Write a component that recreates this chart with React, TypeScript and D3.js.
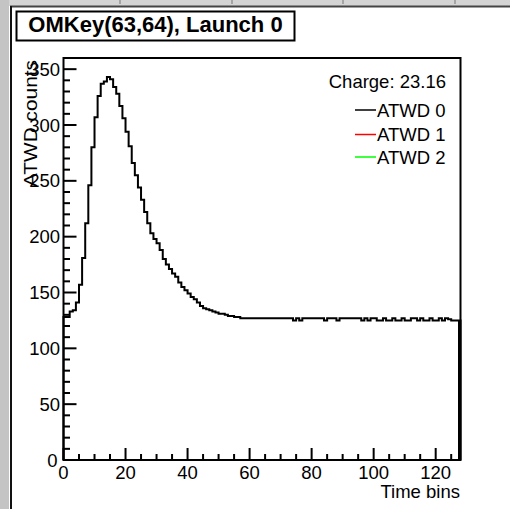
import React from 'react';
import * as d3 from 'd3';

const titleText = 'OMKey(63,64), Launch 0';
const chargeLabel = 'Charge: 23.16';
const xAxisTitle = 'Time bins';
const yAxisTitle = 'ATWD counts';
const seriesNames = ['ATWD 0', 'ATWD 1', 'ATWD 2'];
const seriesColors = ['#000000', '#ff0000', '#00ff00'];
const xTickValues = [0, 20, 40, 60, 80, 100, 120];
const yTickValues = [0, 50, 100, 150, 200, 250, 300, 350];

// ATWD 0 counts per time bin (128 bins)
const atwd0 = [
  128, 128, 133, 134, 141, 157, 181, 212, 246, 280,
  307, 326, 337, 339, 343, 341, 334, 328, 317, 306,
  294, 281, 266, 255, 244, 233, 222, 212, 203, 198,
  194, 188, 180, 175, 171, 167, 164, 159, 155, 152,
  149, 146, 144, 141, 138, 136, 135, 134, 133, 132,
  131, 131, 130, 129, 129, 128, 128, 127, 127, 127,
  127, 127, 127, 127, 127, 127, 127, 127, 127, 127,
  127, 127, 127, 127, 125, 127, 125, 127, 127, 127,
  127, 127, 127, 127, 125, 127, 127, 127, 125, 127,
  127, 127, 127, 127, 127, 127, 125, 127, 125, 127,
  127, 125, 125, 127, 125, 125, 127, 125, 125, 127,
  125, 125, 127, 127, 125, 127, 125, 125, 127, 125,
  125, 127, 125, 127, 126, 125, 125, 125,
];

const W = 510;
const H = 509;
const FONT = '"Liberation Sans", Arial, Helvetica, sans-serif';

export default function App() {
  const x = d3.scaleLinear().domain([0, 128]).range([63.5, 460.5]);
  const y = d3.scaleLinear().domain([0, 360]).range([460, 58]);

  const pts: [number, number][] = [[0, 0]];
  atwd0.forEach((v, i) => pts.push([i, v]));
  pts.push([atwd0.length, atwd0[atwd0.length - 1]]);
  pts.push([atwd0.length, 0]);
  const line = d3
    .line<[number, number]>()
    .x((d) => x(d[0]))
    .y((d) => y(d[1]))
    .curve(d3.curveStepAfter);

  const xMinor = d3.range(0, 129, 5).filter((v) => v % 20 !== 0);
  const yMinor = d3.range(0, 360, 10).filter((v) => v % 50 !== 0);

  const legendLineY = [110, 134.5, 157];
  const legendTextY = [116.5, 141, 163.5];

  return (
    <svg
      width={W}
      height={H}
      style={{ position: 'absolute', left: 0, top: 0, background: '#fff' }}
      fontFamily={FONT}
    >
      <rect x={0} y={0} width={W} height={H} fill="#ffffff" />
      {/* window chrome */}
      <rect x={0} y={0} width={W} height={6} fill="#d4d4d4" />
      <line x1={10} x2={W} y1={6.5} y2={6.5} stroke="#444" strokeWidth={2} />
      {[120, 232, 343, 455].map((v) => (
        <line key={v} x1={v} x2={v} y1={0} y2={4} stroke="#777" strokeWidth={1} />
      ))}
      <rect x={0} y={0} width={9} height={H} fill="#c4c4c4" />
      <line x1={11} x2={11} y1={6} y2={H} stroke="#111" strokeWidth={2} />

      {/* title box */}
      <rect x={16.5} y={11.5} width={278} height={29} fill="#fff" stroke="#000" strokeWidth={2} />
      <text x={155.5} y={32} textAnchor="middle" fontSize={22} fontWeight="bold" fill="#000">
        {titleText}
      </text>

      {/* frame */}
      <rect
        x={x(0)}
        y={y(360)}
        width={x(128) - x(0)}
        height={y(0) - y(360)}
        fill="none"
        stroke="#000"
        strokeWidth={2}
      />

      {/* histogram */}
      <path d={line(pts) || ''} fill="none" stroke="#000" strokeWidth={2} />
      <line
        x1={x(128) - 1.5}
        x2={x(128) - 1.5}
        y1={y(0)}
        y2={y(atwd0[atwd0.length - 1])}
        stroke="#000"
        strokeWidth={2}
      />

      {/* y axis ticks */}
      {yTickValues.map((v) => (
        <line key={'ym' + v} x1={x(0)} x2={x(0) + 13} y1={y(v)} y2={y(v)} stroke="#000" strokeWidth={2} />
      ))}
      {yMinor.map((v) => (
        <line key={'yn' + v} x1={x(0)} x2={x(0) + 6.5} y1={y(v)} y2={y(v)} stroke="#000" strokeWidth={2} />
      ))}
      {yTickValues.map((v) => (
        <text key={'yl' + v} x={v === 0 ? 57.5 : 60} y={y(v) + 6.5} textAnchor="end" fontSize={18.5} fill="#000">
          {v}
        </text>
      ))}

      {/* x axis ticks */}
      {xTickValues.map((v) => (
        <line key={'xm' + v} x1={x(v)} x2={x(v)} y1={y(0)} y2={y(0) - 12} stroke="#000" strokeWidth={2} />
      ))}
      {xMinor.map((v) => (
        <line key={'xn' + v} x1={x(v)} x2={x(v)} y1={y(0)} y2={y(0) - 6} stroke="#000" strokeWidth={2} />
      ))}
      {xTickValues.map((v) => (
        <text key={'xl' + v} x={x(v)} y={478.5} textAnchor="middle" fontSize={18.5} fill="#000">
          {v}
        </text>
      ))}

      {/* axis titles */}
      <text x={460} y={498} textAnchor="end" fontSize={18.5} fill="#000">
        {xAxisTitle}
      </text>
      <text
        transform="translate(37,60) rotate(-90)"
        textAnchor="end"
        fontSize={19}
        textLength={127}
        lengthAdjust="spacingAndGlyphs"
        fill="#000"
      >
        {yAxisTitle}
      </text>

      {/* legend */}
      <text x={446} y={88} textAnchor="end" fontSize={18.5} fill="#000">
        {chargeLabel}
      </text>
      {seriesNames.map((name, i) => (
        <g key={name}>
          <line x1={355} x2={376} y1={legendLineY[i]} y2={legendLineY[i]} stroke={seriesColors[i]} strokeWidth={1.5} />
          <text x={377} y={legendTextY[i]} fontSize={18.5} fill="#000">
            {name}
          </text>
        </g>
      ))}
    </svg>
  );
}
